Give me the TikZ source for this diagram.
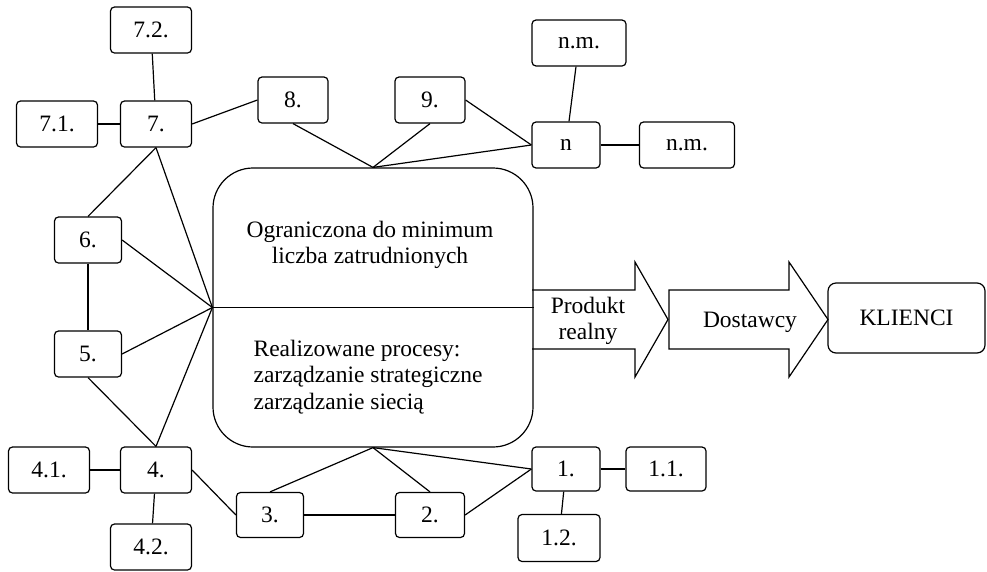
\documentclass[tikz,border=0pt]{standalone}
\usepackage{fontspec}
\setmainfont{Liberation Serif}
\usepackage{tikz}

\tikzset{
  box/.style={draw, rounded corners=4pt, minimum height=46pt, inner sep=0pt},
}

\begin{document}
\begin{tikzpicture}[x=1pt, y=-1pt, line width=1.2pt, font=\fontsize{23.5}{26.5}\selectfont]
    \useasboundingbox (0, 0) rectangle (987, 571);
    % core
    \node [draw, rounded corners=40pt, minimum width=320pt, minimum height=279pt, inner sep=0pt] (core) at (373, 307.5) {};
    \draw (core.west) -- (core.east);
    \node [align=center] (upper) at (370, 245) {Ograniczona do minimum\\liczba zatrudnionych};
    \node [align=left, anchor=west, inner sep=0pt] (lower) at (253, 377) {Realizowane procesy:\\zarządzanie strategiczne\\zarządzanie siecią};
    % top
    \node [box, minimum width=81pt] (n72) at (151, 30) {7.2.};
    \node [box, minimum width=81pt] (n71) at (57, 124) {7.1.};
    \node [box, minimum width=71pt] (n7) at (156, 124) {7.};
    \node [box, minimum width=70pt] (n8) at (293, 100) {8.};
    \node [box, minimum width=70pt] (n9) at (430, 100) {9.};
    \node [box, minimum width=68pt] (nn) at (566, 145) {n};
    \node [box, minimum width=94pt] (nm1) at (579, 43) {n.m.};
    \node [box, minimum width=95pt] (nm2) at (687, 145) {n.m.};
    % left
    \node [box, minimum width=67pt] (n6) at (88, 240) {6.};
    \node [box, minimum width=67pt] (n5) at (88, 354) {5.};
    \node [box, minimum width=71pt] (n4) at (156, 470) {4.};
    \node [box, minimum width=81pt] (n41) at (49, 470) {4.1.};
    \node [box, minimum width=81pt] (n42) at (151, 547) {4.2.};
    % bottom
    \node [box, minimum width=67pt, minimum height=45pt] (n3) at (270, 515) {3.};
    \node [box, minimum width=69pt, minimum height=45pt] (n2) at (430, 515) {2.};
    \node [box, minimum width=68pt, minimum height=44pt] (n1) at (566, 469) {1.};
    \node [box, minimum width=80pt, minimum height=44pt] (n11) at (666, 469) {1.1.};
    \node [box, minimum width=82pt, minimum height=47pt] (n12) at (559, 538) {1.2.};
    % right
    \draw (532, 290) -- (635, 290) -- (635, 262) -- (668, 319.5) -- (635, 377) -- (635, 349) -- (532, 349);
    \node [align=center, inner sep=0pt] (prod) at (588, 321) {Produkt\\realny};
    \draw (669, 290) -- (789, 290) -- (789, 262) -- (828, 319.5) -- (789, 377) -- (789, 349) -- (669, 349) -- cycle;
    \node (dost) at (750, 322) {Dostawcy};
    \node [draw, rounded corners=8pt, minimum width=157pt, minimum height=70pt] (klienci) at (906.5, 318) {KLIENCI};
    % links
    \draw (n72) -- (n7);
    \draw (n71) -- (n7);
    \draw (n7.east) -- (n8.west);
    \draw (n8.south) -- (core.north);
    \draw (n9.south) -- (core.north);
    \draw (n9.east) -- (nn.west);
    \draw (core.north) -- (nn.west);
    \draw (nn) -- (nm1);
    \draw (nn) -- (nm2);
    \draw (n7.south) -- (n6.north);
    \draw (n7.south) -- (core.west);
    \draw (n6.east) -- (core.west);
    \draw (n6) -- (n5);
    \draw (n5.east) -- (core.west);
    \draw (n5.south) -- (n4.north);
    \draw (n4.north) -- (core.west);
    \draw (n41) -- (n4);
    \draw (n42) -- (n4);
    \draw (n4.east) -- (n3.west);
    \draw (n3.north) -- (core.south);
    \draw (n3) -- (n2);
    \draw (n2.north) -- (core.south);
    \draw (core.south) -- (n1.west);
    \draw (n2.east) -- (n1.west);
    \draw (n1) -- (n11);
    \draw (n1) -- (n12);
  \end{tikzpicture}
\end{document}
